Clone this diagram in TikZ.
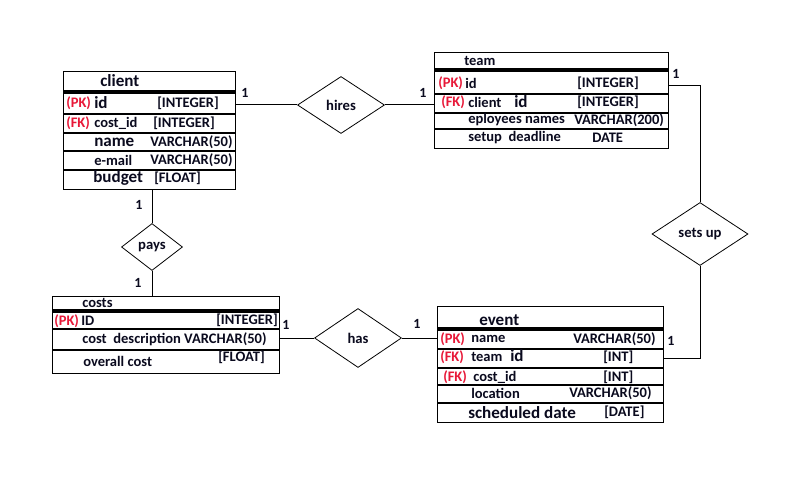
\documentclass[tikz,border=0pt]{standalone}
\usepackage{fontspec}
\setmainfont{Carlito}
\usetikzlibrary{shapes.geometric}
\definecolor{pkred}{RGB}{232,24,56}
\definecolor{ink}{RGB}{10,10,30}
\tikzset{
  tbl/.style={draw, line width=0.8pt, inner sep=0, anchor=north west},
  rel/.style={draw, diamond, line width=0.6pt, inner sep=0, text=ink, font=\bfseries\fontsize{11}{13}\selectfont},
  txt/.style={anchor=west, inner sep=0, text=ink, font=\bfseries\fontsize{10.9}{13}\selectfont},
  big/.style={txt, font=\bfseries\fontsize{12.8}{15}\selectfont},
  key/.style={txt, text=pkred},
  one/.style={anchor=center, inner sep=0, text=ink, font=\bfseries\fontsize{10.5}{12}\selectfont},
  rowsep/.style={line width=0.8pt},
  headsep/.style={line width=2.4pt},
  link/.style={line width=0.75pt}
}
\begin{document}
\begin{tikzpicture}[x=0.75pt, y=-0.75pt]
\useasboundingbox[fill=white] (0,0) rectangle (792,481);

% ---------- client ----------
\node[tbl, minimum width=129pt, minimum height=88.5pt] (client) at (63,71) {};
\draw[headsep] (client.west |- 0,92) -- (client.east |- 0,92);
\foreach \yy in {114,133,151,170} \draw[rowsep] (client.west |- 0,\yy) -- (client.east |- 0,\yy);
\node[big] (cT) at (100,81) {client};
\node[key] (c1k) at (66,103) {(PK)};
\node[big] (c1n) at (94,103) {id};
\node[txt] (c1t) at (157,103) {[INTEGER]};
\node[key] (c2k) at (66,123) {(FK)};
\node[txt] (c2n) at (94,123) {cost\_id};
\node[txt] (c2t) at (153,123) {[INTEGER]};
\node[big] (c3n) at (94,142) {name};
\node[txt] (c3t) at (150,142) {VARCHAR(50)};
\node[txt] (c4n) at (94,160) {e-mail};
\node[txt] (c4t) at (150,160) {VARCHAR(50)};
\node[big] (c5n) at (93,178) {budget};
\node[txt] (c5t) at (154,178) {[FLOAT]};

% ---------- team ----------
\node[tbl, minimum width=175.5pt, minimum height=72pt] (team) at (434,52) {};
\draw[headsep] (team.west |- 0,70) -- (team.east |- 0,70);
\foreach \yy in {94,113,129} \draw[rowsep] (team.west |- 0,\yy) -- (team.east |- 0,\yy);
\node[txt] (tT) at (464,61) {team};
\node[key] (t1k) at (438,83) {(PK)};
\node[txt] (t1n) at (465,83) {id};
\node[txt] (t1t) at (577,83) {[INTEGER]};
\node[key] (t2k) at (441,102) {(FK)};
\node[txt] (t2n) at (468,102) {client};
\node[big] (t2m) at (514,102) {id};
\node[txt] (t2t) at (577,102) {[INTEGER]};
\node[txt] (t3n) at (468,120) {eployees names};
\node[txt] (t3t) at (574,120) {VARCHAR(200)};
\node[txt] (t4n) at (468,138) {setup~~deadline};
\node[txt] (t4t) at (592,138) {DATE};

% ---------- costs ----------
\node[tbl, minimum width=170.25pt, minimum height=57.75pt] (costs) at (52,296) {};
\draw[headsep] (costs.west |- 0,311) -- (costs.east |- 0,311);
\foreach \yy in {329,350} \draw[rowsep] (costs.west |- 0,\yy) -- (costs.east |- 0,\yy);
\node[txt] (sT) at (82,303) {costs};
\node[key] (s1k) at (54,321) {(PK)};
\node[txt] (s1n) at (81,321) {ID};
\node[txt] (s1t) at (216,320) {[INTEGER]};
\node[txt] (s2n) at (82,339) {cost~~description VARCHAR(50)};
\node[txt] (s3n) at (83,361) {overall cost};
\node[txt] (s3t) at (218,357) {[FLOAT]};

% ---------- event ----------
\node[tbl, minimum width=169.5pt, minimum height=87pt] (event) at (437,306) {};
\draw[headsep] (event.west |- 0,329) -- (event.east |- 0,329);
\foreach \yy in {349,368,385,403} \draw[rowsep] (event.west |- 0,\yy) -- (event.east |- 0,\yy);
\node[big] (eT) at (479,320) {event};
\node[key] (e1k) at (440,339) {(PK)};
\node[txt] (e1n) at (471,339) {name};
\node[txt] (e1t) at (573,339) {VARCHAR(50)};
\node[key] (e2k) at (440,357) {(FK)};
\node[txt] (e2n) at (471,357) {team};
\node[big] (e2m) at (510,356) {id};
\node[txt] (e2t) at (603,357) {[INT]};
\node[key] (e3k) at (443,377) {(FK)};
\node[txt] (e3n) at (473,377) {cost\_id};
\node[txt] (e3t) at (603,377) {[INT]};
\node[txt] (e4n) at (471,393) {location};
\node[txt] (e4t) at (569,393) {VARCHAR(50)};
\node[big] (e5n) at (468,413) {scheduled date};
\node[txt] (e5t) at (604,412) {[DATE]};

% ---------- relationships ----------
\node[rel, minimum width=65.25pt, minimum height=42.75pt] (hires) at (341,105) {hires};
\node[rel, minimum width=45.75pt, minimum height=35.25pt] (pays) at (152,247) {pays};
\node[rel, minimum width=65.25pt, minimum height=44.25pt] (has) at (358,338) {has};
\node[rel, minimum width=72pt, minimum height=47.25pt] (setsup) at (700,234) {sets up};

% ---------- connectors ----------
\draw[link] (hires.west -| client.east) -- (hires.west);
\draw[link] (hires.east) -- (hires.east -| team.west);
\path (team.north east) ++(0,34) coordinate (tr);
\draw[link] (tr) -| (setsup.north);
\path (event.north east) ++(0,52) coordinate (er);
\draw[link] (setsup.south) |- (er);
\draw[link] (pays.north |- client.south) -- (pays.north);
\draw[link] (pays.south) -- (pays.south |- costs.north);
\draw[link] (has.west -| costs.east) -- (has.west);
\draw[link] (has.east) -- (has.east -| event.west);

% ---------- cardinalities ----------
\node[one] (n1) at (245,93) {1};
\node[one] (n2) at (423,93) {1};
\node[one] (n3) at (676,74) {1};
\node[one] (n4) at (671,341) {1};
\node[one] (n5) at (139,205) {1};
\node[one] (n6) at (138,283) {1};
\node[one] (n7) at (286,325) {1};
\node[one] (n8) at (417,324) {1};
\end{tikzpicture}
\end{document}
